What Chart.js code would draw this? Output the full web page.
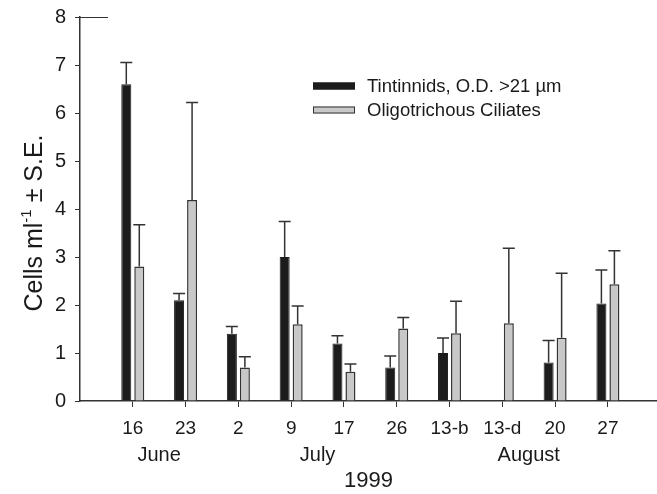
<!DOCTYPE html>
<html>
<head>
<meta charset="utf-8">
<script src="https://cdn.jsdelivr.net/npm/chart.js@4.4.1/dist/chart.umd.min.js"></script>
<style>
  html, body { margin: 0; padding: 0; background: #fff; }
  #wrap { width: 657px; height: 494px; position: relative; }
</style>
</head>
<body>
<div id="wrap"><canvas id="cells-chart"></canvas></div>
<script>
// ========== DATA ========== //
const dayLabels = ["16", "23", "2", "9", "17", "26", "13-b", "13-d", "20", "27"];
const monthLabels = ["June", "July", "August"];
const monthCenters = [0.5, 3.5, 7.5]; // midway between the sampling dates of each month
const yearLabel = "1999";

const tintinnids = [6.6, 2.1, 1.4, 3.0, 1.2, 0.7, 1.0, null, 0.8, 2.03];
const tintinnidsSE = [0.45, 0.14, 0.15, 0.74, 0.16, 0.24, 0.31, null, 0.46, 0.7];
const oligotrichs = [2.8, 4.19, 0.7, 1.6, 0.61, 1.51, 1.41, 1.62, 1.32, 2.43];
const oligotrichsSE = [0.87, 2.03, 0.22, 0.38, 0.16, 0.23, 0.67, 1.56, 1.34, 0.7];

const FONT = "'Liberation Sans', Arial, Helvetica, sans-serif";
const INK = "#1a1a1a";

// ========== PLUGINS ========== //
// upper-only error bars with a cap
const errorBars = {
  id: "errorBars",
  afterDatasetsDraw(chart) {
    const ctx = chart.ctx;
    const y = chart.scales.y;
    chart.data.datasets.forEach((ds, di) => {
      const meta = chart.getDatasetMeta(di);
      meta.data.forEach((bar, i) => {
        const v = ds.data[i].y;
        const se = ds.errors[i];
        if (v == null || se == null) return;
        const top = y.getPixelForValue(v + se);
        ctx.save();
        ctx.strokeStyle = "#333";
        ctx.lineWidth = 1.5;
        ctx.beginPath();
        ctx.moveTo(bar.x, bar.y);
        ctx.lineTo(bar.x, top);
        ctx.moveTo(bar.x - 6, top);
        ctx.lineTo(bar.x + 6, top);
        ctx.stroke();
        ctx.restore();
      });
    });
  }
};

// legend, month row, y title with superscript
const decorations = {
  id: "decorations",
  afterDraw(chart) {
    const ctx = chart.ctx;
    const x = chart.scales.x;
    const y = chart.scales.y;
    ctx.save();

    // stray line at top of y axis
    ctx.strokeStyle = "#333";
    ctx.lineWidth = 1;
    ctx.beginPath();
    ctx.moveTo(chart.chartArea.left, y.getPixelForValue(8) + 0.5);
    ctx.lineTo(chart.chartArea.left + 28, y.getPixelForValue(8) + 0.5);
    ctx.stroke();

    // legend
    ctx.font = `18.5px ${FONT}`;
    ctx.textBaseline = "middle";
    ctx.textAlign = "left";
    chart.data.datasets.forEach((ds, i) => {
      const ly = 86 + i * 24;
      ctx.fillStyle = ds.backgroundColor;
      ctx.fillRect(313, ly - 3.5, 42, 7);
      ctx.strokeStyle = ds.borderColor;
      ctx.lineWidth = 1;
      ctx.strokeRect(313.5, ly - 3, 41, 6);
      ctx.fillStyle = INK;
      ctx.fillText(ds.label, 367, ly + 1);
    });

    // months
    ctx.font = `20px ${FONT}`;
    ctx.textAlign = "center";
    monthLabels.forEach((m, i) => {
      ctx.fillText(m, x.getPixelForValue(monthCenters[i]), 455);
    });

    // y title
    ctx.translate(42, 223);
    ctx.rotate(-Math.PI / 2);
    ctx.textAlign = "left";
    ctx.textBaseline = "alphabetic";
    const big = `25px ${FONT}`;
    const small = `15px ${FONT}`;
    const parts = [["Cells ml", big, 0], ["-1", small, -11], [" \u00B1 S.E.", big, 0]];
    let w = 0;
    parts.forEach(p => { ctx.font = p[1]; w += ctx.measureText(p[0]).width; });
    let cx = -w / 2;
    parts.forEach(p => {
      ctx.font = p[1];
      ctx.fillText(p[0], cx, p[2]);
      cx += ctx.measureText(p[0]).width;
    });
    ctx.restore();
  }
};

// ========== CHART ========== //
const toPoints = arr => arr.map((v, i) => ({ x: i, y: v }));

const ctx = document.getElementById("cells-chart").getContext("2d");
new Chart(ctx, {
  type: "bar",
  data: {
    datasets: [
      {
        label: "Tintinnids, O.D. >21 \u00B5m",
        data: toPoints(tintinnids),
        errors: tintinnidsSE,
        backgroundColor: "#1c1c1c",
        borderColor: "#1c1c1c",
        borderWidth: 1
      },
      {
        label: "Oligotrichous Ciliates",
        data: toPoints(oligotrichs),
        errors: oligotrichsSE,
        backgroundColor: "#c8c8c8",
        borderColor: "#333",
        borderWidth: 1.5
      }
    ]
  },
  options: {
    responsive: true,
    maintainAspectRatio: false,
    animation: false,
    categoryPercentage: 0.4924,
    barPercentage: 0.77,
    layout: { padding: { top: 17, right: 0, left: 0, bottom: 0 } },
    plugins: {
      legend: { display: false },
      tooltip: { enabled: false }
    },
    scales: {
      x: {
        type: "linear",
        offset: false,
        min: -1,
        max: 9.93,
        afterBuildTicks: scale => { scale.ticks = dayLabels.map((_, i) => ({ value: i })); },
        afterFit: scale => { scale.height = 93; },
        grid: { display: true, offset: false, drawOnChartArea: false, drawTicks: true, tickLength: 6, tickColor: "#333", tickWidth: 1 },
        border: { display: true, color: "#333", width: 1.5 },
        ticks: {
          autoSkip: false,
          maxRotation: 0,
          padding: 10,
          color: INK,
          font: { family: FONT, size: 19 },
          callback: v => dayLabels[v]
        },
        title: {
          display: true,
          text: yearLabel,
          color: INK,
          font: { family: FONT, size: 22 },
          padding: { top: 0, bottom: 0 }
        }
      },
      y: {
        min: 0,
        max: 8,
        afterFit: scale => {
          scale.width = 80;
          scale.paddingTop = 0;
          scale.paddingBottom = 0;
        },
        grid: { display: true, drawOnChartArea: false, drawTicks: true, tickLength: 5, tickColor: "#333", tickWidth: 1 },
        border: { display: true, color: "#333", width: 1.5 },
        ticks: {
          stepSize: 1,
          padding: 9,
          color: INK,
          font: { family: FONT, size: 20 }
        }
      }
    }
  },
  plugins: [errorBars, decorations]
});
</script>
</body>
</html>
